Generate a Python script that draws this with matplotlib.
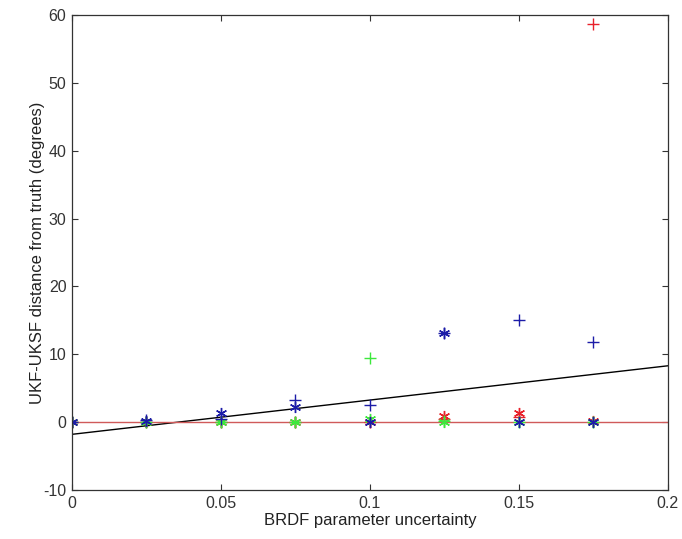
import matplotlib.pyplot as plt
import numpy as np

plt.rcParams['font.family'] = ['Liberation Sans', 'DejaVu Sans']
plt.rcParams['axes.unicode_minus'] = False

uncertainty = [0, 0.025, 0.05, 0.075, 0.1, 0.125, 0.15, 0.175]

red_plus = [0, 0, 0, 0, 0, 0.5, 0.8, 58.7]
red_star = [0, 0, 0, 0, 0, 0.9, 1.3, 0.1]
green_plus = [0, 0, 0, 0, 9.5, 0.2, 0, 0]
green_star = [0, 0, 0, 0, 0.5, 0, 0, 0]
blue_plus = [0, 0.3, 0.5, 3.3, 2.5, 13.2, 15.1, 11.8]
blue_star = [0, 0.2, 1.4, 2.2, 0, 13.2, 0, 0]

fit_x = [0, 0.2]
fit_y = [-1.8, 8.3]
zero_x = [0, 0.2]
zero_y = [0, 0]

red = '#e8202a'
green = '#3ce83c'
blue = '#1c1ca8'
aster = (6, 2, 0)

fig = plt.figure(figsize=(6.82, 5.39), dpi=100)
ax = fig.add_axes([0.1056, 0.091, 0.8734, 0.881])

ax.plot(fit_x, fit_y, color='black', lw=1.0)
ax.plot(zero_x, zero_y, color='#d05a5a', lw=1.0)

ax.plot(uncertainty, red_plus, ls='none', marker='+', color=red, ms=8, mew=1.0)
ax.plot(uncertainty, red_star, ls='none', marker=aster, color=red, ms=8, mew=1.0)
ax.plot(uncertainty, green_plus, ls='none', marker='+', color=green, ms=8, mew=1.0)
ax.plot(uncertainty, green_star, ls='none', marker=aster, color=green, ms=8, mew=1.0)
ax.plot(uncertainty, blue_plus, ls='none', marker='+', color=blue, ms=8, mew=1.0)
ax.plot(uncertainty, blue_star, ls='none', marker=aster, color=blue, ms=8, mew=1.0)

ax.set_xlim(0, 0.2)
ax.set_ylim(-10, 60)
ax.set_xticks([0, 0.05, 0.1, 0.15, 0.2])
ax.set_xticklabels(['0', '0.05', '0.1', '0.15', '0.2'])
ax.set_yticks(np.arange(-10, 61, 10))

ax.tick_params(direction='in', length=4, labelsize=11.5, colors='#333333', pad=4)
ax.tick_params(top=True, right=True)
for s in ax.spines.values():
    s.set_color('#333333')
    s.set_linewidth(0.9)

ax.set_xlabel('BRDF parameter uncertainty', fontsize=12, labelpad=2, color='#222222')
ax.set_ylabel('UKF-UKSF distance from truth (degrees)', fontsize=12, labelpad=-1, color='#222222')

fig.savefig('out.png', dpi=100)
